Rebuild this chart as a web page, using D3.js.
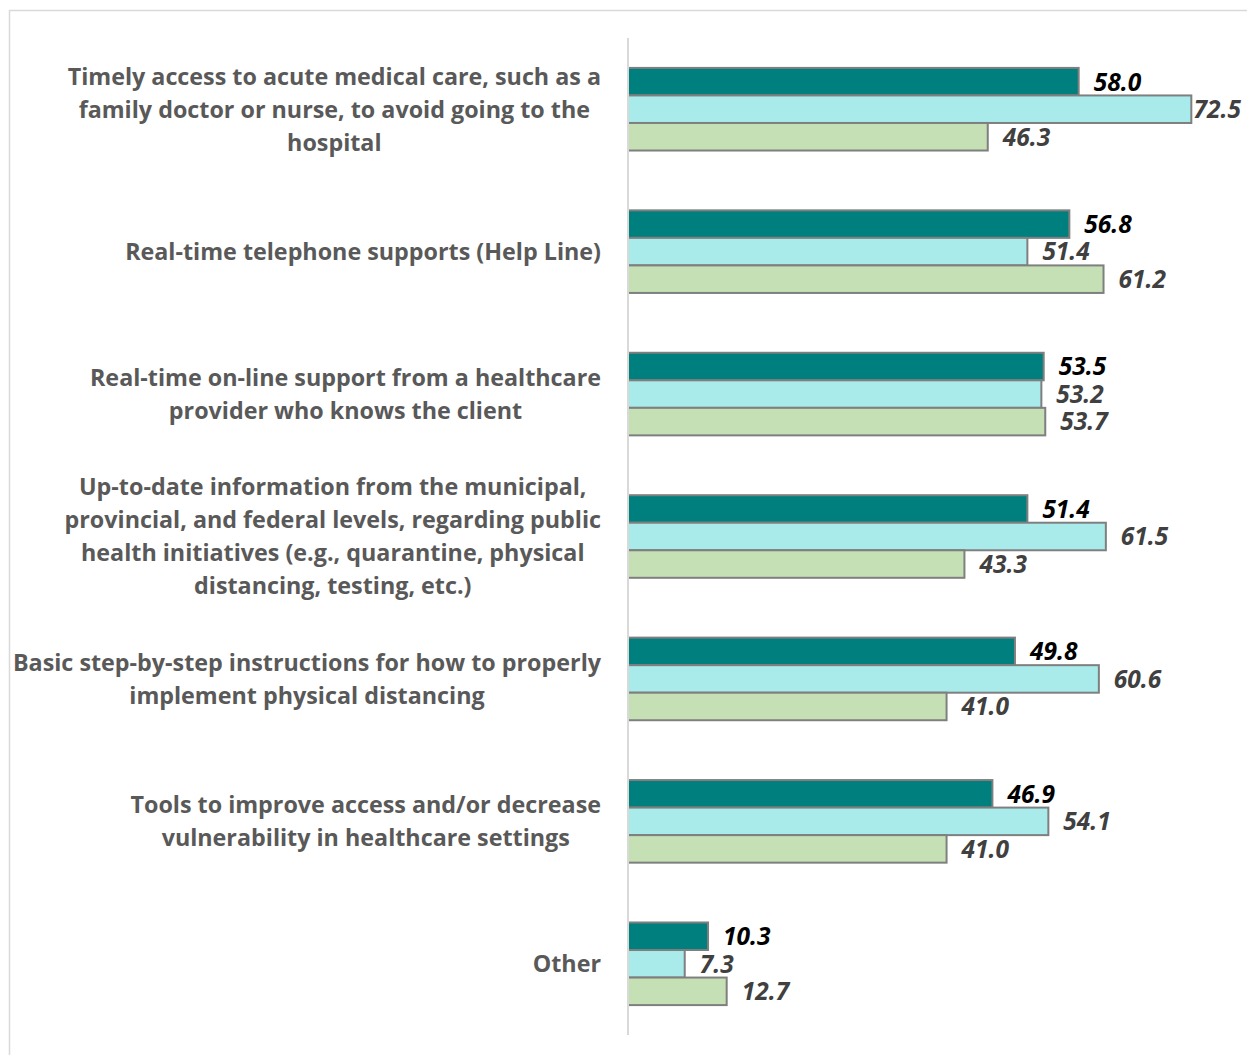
<!DOCTYPE html>
<html>
<head>
<meta charset="utf-8">
<script src="https://cdn.jsdelivr.net/npm/d3@7/dist/d3.min.js"></script>
<style>
  html, body { margin: 0; padding: 0; background: #fff; }
  svg { display: block; }
</style>
</head>
<body>
<div id="chart"></div>
<script>
// Support types (each entry is a list of wrapped lines)
const categories = [
  ["Timely access to acute medical care, such as a", "family doctor or nurse, to avoid going to the", "hospital"],
  ["Real-time telephone supports (Help Line)"],
  ["Real-time on-line support from a healthcare", "provider who knows the client"],
  ["Up-to-date information from the municipal,", "provincial, and federal levels, regarding public", "health initiatives (e.g., quarantine, physical", "distancing, testing, etc.)"],
  ["Basic step-by-step instructions for how to properly", "implement physical distancing"],
  ["Tools to improve access and/or decrease", "vulnerability in healthcare settings"],
  ["Other"]
];

// Percentages per series, in category order
const seriesA = [58.0, 56.8, 53.5, 51.4, 49.8, 46.9, 10.3];
const seriesB = [72.5, 51.4, 53.2, 61.5, 60.6, 54.1, 7.3];
const seriesC = [46.3, 61.2, 53.7, 43.3, 41.0, 41.0, 12.7];

const seriesKeys = ["A", "B", "C"];
const seriesValues = { A: seriesA, B: seriesB, C: seriesC };
const fills = { A: "#007F7F", B: "#A9EBEA", C: "#C5E0B4" };
const labelColors = { A: "#000000", B: "#404040", C: "#404040" };

const W = 1247, H = 1055;
const svg = d3.select("#chart").append("svg")
  .attr("width", W).attr("height", H);

// outer frame
svg.append("rect")
  .attr("x", 9.5).attr("y", 10.5)
  .attr("width", 1300).attr("height", 1100)
  .attr("fill", "none").attr("stroke", "#D9D9D9").attr("stroke-width", 1.5);

const ids = categories.map((_, i) => i);

const x = d3.scaleLinear().domain([0, 80]).range([628, 1249.6]);
const y = d3.scaleBand().domain(ids).range([38, 1035])
  .paddingInner(0.42).paddingOuter(0.21);
const ySub = d3.scaleBand().domain(seriesKeys).range([0, y.bandwidth()]);

const groups = svg.append("g").selectAll("g")
  .data(ids).join("g")
  .attr("transform", d => `translate(0,${y(d)})`);

groups.selectAll("rect")
  .data(i => seriesKeys.map(k => ({ k, v: seriesValues[k][i] })))
  .join("rect")
  .attr("x", x(0))
  .attr("y", d => ySub(d.k))
  .attr("width", d => x(d.v) - x(0))
  .attr("height", ySub.bandwidth())
  .attr("fill", d => fills[d.k])
  .attr("stroke", "#7F7F7F")
  .attr("stroke-width", 2);

// value labels, kept inside the chart's right edge
const rightLimit = 1241;
groups.selectAll("text.val")
  .data(i => seriesKeys.map(k => ({ k, v: seriesValues[k][i] })))
  .join("text")
  .attr("class", "val")
  .attr("y", d => ySub(d.k) + ySub.bandwidth() / 2)
  .attr("dy", "0.36em")
  .attr("font-family", "'Open Sans', sans-serif")
  .attr("font-size", 24.5)
  .attr("font-weight", 700)
  .attr("font-style", "italic")
  .attr("fill", d => labelColors[d.k])
  .text(d => d.v.toFixed(1))
  .each(function (d) {
    const w = this.getComputedTextLength();
    let px = x(d.v) + 15;
    if (px + w > rightLimit) px = Math.max(x(d.v) + 2, rightLimit - w);
    d3.select(this).attr("x", px);
  });

// vertical category axis line
svg.append("line")
  .attr("x1", x(0)).attr("x2", x(0))
  .attr("y1", y.range()[0]).attr("y2", y.range()[1])
  .attr("stroke", "#D9D9D9").attr("stroke-width", 2);

// category labels: lines centred within a block right-aligned at the axis
const labelRight = 601, lineH = 33;
const labels = svg.append("g").selectAll("text")
  .data(ids).join("text")
  .attr("font-family", "'Open Sans', sans-serif")
  .attr("font-size", 23.3)
  .attr("font-weight", 700)
  .attr("fill", "#595959")
  .attr("text-anchor", "middle");

labels.each(function (i) {
  const t = d3.select(this);
  const lines = categories[i];
  const cy = y(i) + y.bandwidth() / 2;
  const top = cy - (lines.length - 1) * lineH / 2;
  const spans = lines.map((ln, j) => t.append("tspan")
    .attr("y", top + j * lineH).attr("dy", "0.36em").text(ln));
  const maxW = d3.max(spans, s => s.node().getComputedTextLength());
  spans.forEach(s => s.attr("x", labelRight - maxW / 2));
});
</script>
</body>
</html>
